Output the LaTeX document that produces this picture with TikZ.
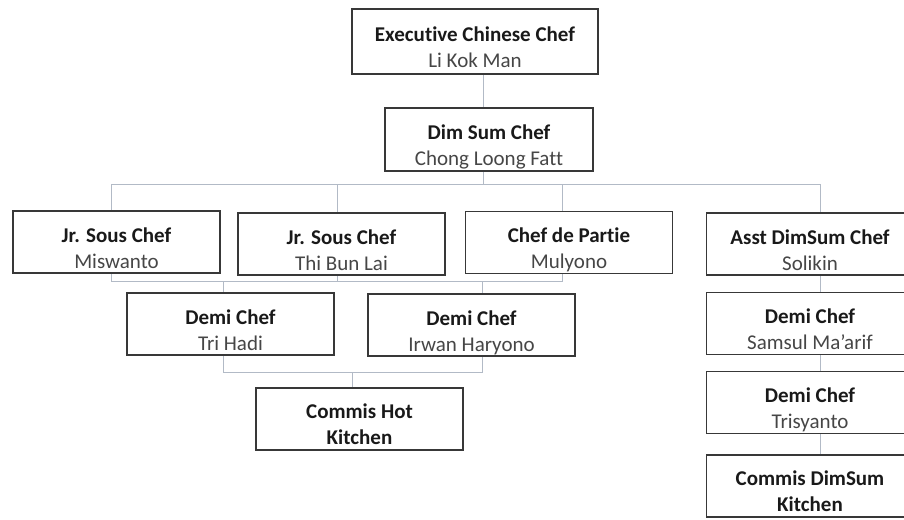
\documentclass[tikz,border=0pt]{standalone}
\usepackage{fontspec}
\setmainfont{Carlito}[Ligatures=CommonOff]
\usepackage{xcolor}
\usetikzlibrary{calc,positioning}
\pgfdeclarelayer{background}
\pgfsetlayers{background,main}
\definecolor{boxgray}{RGB}{56,56,56}
\definecolor{linkgray}{RGB}{178,186,198}
\definecolor{namegray}{RGB}{70,70,70}
\newcommand{\chefentry}[2]{\rule{0pt}{31pt}\textbf{#1}\\\textcolor{namegray}{#2}\rule[-5pt]{0pt}{5pt}}
\tikzset{
    chef/.style={
        rectangle,
        draw=boxgray, line width=1.8pt,
        fill=white,
        minimum width=207pt,
        minimum height=62pt,
        inner sep=0pt,
        align=center,
        text=black!90,
        font={\fontsize{21pt}{26pt}\selectfont},
    },
    link/.style={draw=linkgray, line width=1pt},
}

\begin{document}
\begin{tikzpicture}[x=1pt, y=-1pt]
\useasboundingbox (0,0) rectangle (904,519);
\clip (0,0) rectangle (904,519);

\node [chef, minimum width=246pt, minimum height=65pt] (exec) at (475,41.5)
  {\chefentry{Executive Chinese Chef}{Li Kok Man}};
\node [chef, minimum width=208pt, minimum height=63pt] (dimsum) at (489,139.5)
  {\chefentry{Dim Sum Chef}{Chong Loong Fatt}};

\foreach \n/\x/\y/\t/\p in {jr1/116.5/242/Jr. Sous Chef/Miswanto,
    jr2/341.5/244/Jr. Sous Chef/Thi Bun Lai,
    partie/569/242.5/Chef de Partie/Mulyono,
    asst/810/244/Asst DimSum Chef/Solikin,
    trihadi/230.5/324/Demi Chef/Tri Hadi,
    irwan/471.5/325/Demi Chef/Irwan Haryono,
    samsul/810/323.5/Demi Chef/Samsul Ma’arif,
    trisyanto/810/402.5/Demi Chef/Trisyanto}
  \node [chef] (\n) at (\x,\y) {\chefentry{\t}{\p}};

\node [chef] (hotcommis) at (359.5,419)
  {\rule{0pt}{29pt}\textbf{Commis Hot}\\\textbf{Kitchen}\rule[-5pt]{0pt}{5pt}};
\node [chef] (dimcommis) at (810,486)
  {\rule{0pt}{29pt}\textbf{Commis DimSum}\\\textbf{Kitchen}\rule[-5pt]{0pt}{5pt}};

\coordinate (trunk) at (483,0);
\coordinate (bus1) at (0,184);
\coordinate (bus2) at (0,281);
\coordinate (bus3) at (0,372);

\begin{pgfonlayer}{background}
% head chef down to the first bus
\draw [link] (exec.south -| trunk) -- (dimsum.north -| trunk);
\draw [link] (dimsum.south -| trunk) -- (trunk |- bus1);
\draw [link] ([xshift=-5.5pt]jr1.north) |- ([xshift=10pt]asst.north |- bus1)
  -- ([xshift=10pt]asst.north);
\draw [link] ([xshift=-4.5pt]jr2.north) -- ([xshift=-4.5pt]jr2.north |- bus1);
\draw [link] ([xshift=-7pt]partie.north) -- ([xshift=-7pt]partie.north |- bus1);

% sous chefs down to the demi chefs
\draw [link] ([xshift=-5.5pt]jr1.south) |- ([xshift=-7pt]partie.south |- bus2)
  -- ([xshift=-7pt]partie.south);
\draw [link] ([xshift=-4.5pt]jr2.south) -- ([xshift=-4.5pt]jr2.south |- bus2);
\draw [link] ([xshift=-7.5pt]trihadi.north |- bus2) -- ([xshift=-7.5pt]trihadi.north);
\draw [link] ([xshift=10.5pt]irwan.north |- bus2) -- ([xshift=10.5pt]irwan.north);

% demi chefs down to the commis
\draw [link] ([xshift=-7.5pt]trihadi.south) |- ([xshift=10.5pt]irwan.south |- bus3)
  -- ([xshift=10.5pt]irwan.south);
\draw [link] ([xshift=-7.5pt]hotcommis.north |- bus3) -- ([xshift=-7.5pt]hotcommis.north);

% dim sum column
\draw [link] ([xshift=10pt]asst.south) -- ([xshift=10pt]samsul.north);
\draw [link] ([xshift=10pt]samsul.south) -- ([xshift=10pt]trisyanto.north);
\draw [link] ([xshift=10pt]trisyanto.south) -- ([xshift=10pt]dimcommis.north);
\end{pgfonlayer}

\end{tikzpicture}
\end{document}
